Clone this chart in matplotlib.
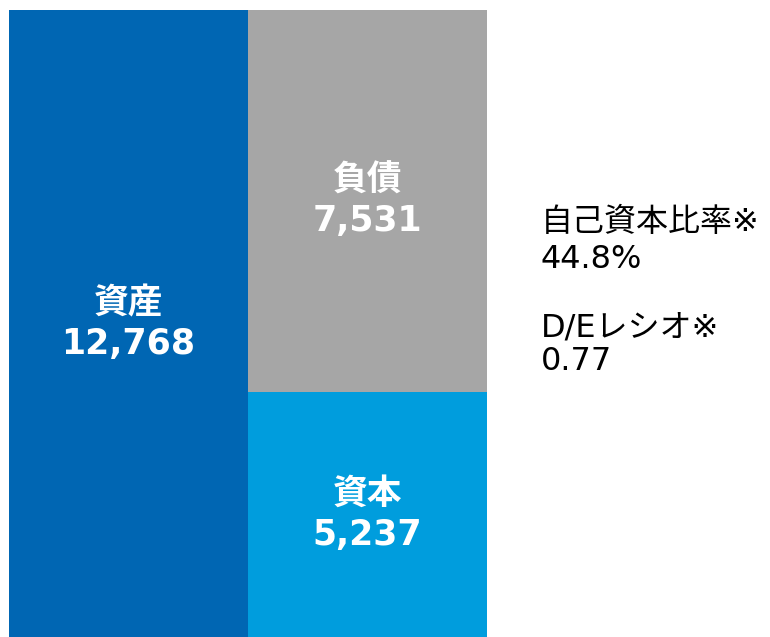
import matplotlib.pyplot as plt

plt.rcParams['font.family'] = ['DejaVu Sans', 'Noto Sans CJK JP']

# balance sheet (単位は元資料のまま)
assets_label = '資産'
assets = 12768
liab_label = '負債'
liabilities = 7531
equity_label = '資本'
equity = 5237
equity_ratio = '44.8%'
de_ratio = '0.77'

c_assets = '#0066b3'
c_liab = '#a6a6a6'
c_equity = '#009ddd'

fig = plt.figure(figsize=(7.7, 6.37), dpi=100)
ax = fig.add_axes([9 / 770, 0, 478 / 770, 627 / 637])

ax.bar(0, assets, width=1, color=c_assets)
ax.bar(1, equity, width=1, color=c_equity)
ax.bar(1, liabilities, width=1, bottom=equity, color=c_liab)

# bars run past the lower edge of the picture
y_low = assets * 20 / 647
ax.set_xlim(-0.5, 1.5)
ax.set_ylim(y_low, assets)
ax.axis('off')

lbl = dict(ha='center', va='center', color='white', fontsize=25,
           fontweight='bold', linespacing=1.25)
ax.text(0, (y_low + assets) / 2, f'{assets_label}\n{assets:,}', **lbl)
ax.text(1, equity + liabilities / 2, f'{liab_label}\n{liabilities:,}', **lbl)
ax.text(1, (y_low + equity) / 2, f'{equity_label}\n{equity:,}', **lbl)

side = dict(ha='left', va='center', fontsize=23, color='black')
fig.text(541 / 770, 1 - 222 / 637, '自己資本比率※', **side)
fig.text(541 / 770, 1 - 259 / 637, equity_ratio, **side)
fig.text(541 / 770, 1 - 328 / 637, 'D/Eレシオ※', **side)
fig.text(541 / 770, 1 - 362 / 637, de_ratio, **side)

fig.savefig('out.png', dpi=100)
